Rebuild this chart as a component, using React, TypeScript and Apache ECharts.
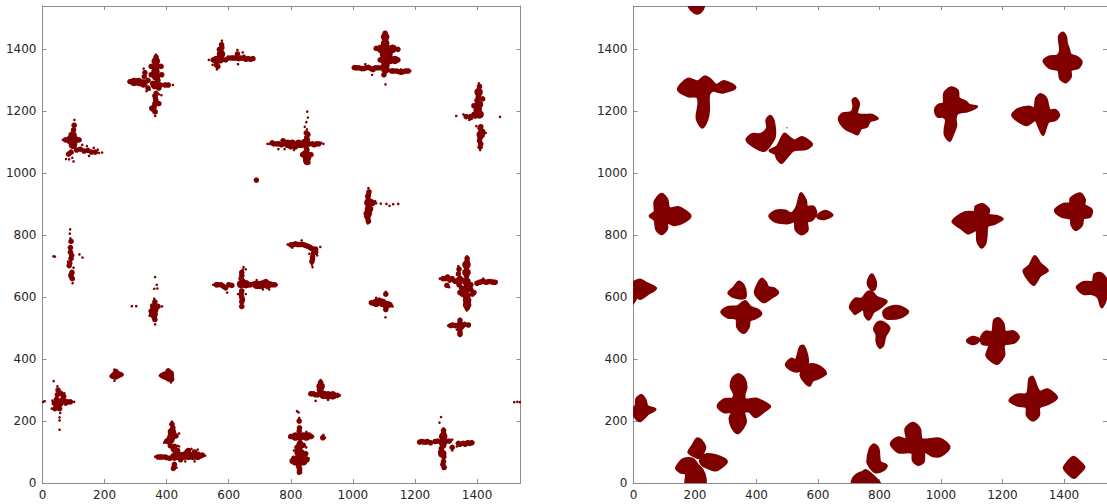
import React, { useEffect, useRef } from "react";
import * as echarts from "echarts";

const axisMax = 1540;
const tickStep = 200;

// left panel: measured points, grouped by how much of the cluster each dot covers
const leftDense: number[][] = [
  [88,1108],[104,1108],[97,1122],[98,1092],
  [365,1362],[365,1345],[364,1328],[366,1312],[362,1285],[295,1295],[310,1295],[325,1290],
  [560,1366],[572,1368],[575,1385],
  [1104,1440],[1104,1420],[1090,1402],[1110,1402],[1128,1402],[1100,1385],[1115,1385],[1100,1366],[1120,1366],[1135,1366],[1105,1350],[1105,1335],
  [1405,1262],[1406,1222],[1402,1205],[1408,1190],[1412,1125],
  [790,1095],[805,1095],[825,1095],[845,1098],[852,1050],[848,1062],
  [1050,905],[1052,885],[1048,870],
  [640,642],[655,642],[690,640],[705,640],[725,640],
  [360,560],[358,545],
  [234,347],[240,350],
  [395,347],[408,340],[410,352],
  [417,165],[416,150],[412,140],[440,88],[455,88],[470,88],[485,88],[500,88],[425,85],
  [1075,582],[1095,582],[1108,575],
  [1366,705],[1366,680],[1366,650],[1364,625],[1366,605],[1368,590],[1368,575],[1345,655],
  [905,285],[920,283],[935,283],[896,312],
  [815,150],[830,150],[850,150],[825,100],[828,68],[815,70],[840,70],
  [1291,150],[1290,130],[1288,95],
  [1345,508]
];

const leftMedium: number[][] = [
  [100,1140],[102,1155],[74,1108],[118,1108],[92,1068],[84,1062],[122,1078],[134,1072],[146,1074],[158,1068],[170,1068],[110,1075],
  [366,1375],[350,1345],[382,1345],[350,1318],[384,1318],[282,1296],[340,1300],[330,1325],[328,1312],[340,1275],[380,1285],[395,1285],[405,1285],[362,1250],[365,1235],[360,1215],[363,1198],[352,1210],[375,1225],
  [372,1300],[355,1290],[375,1275],[362,1225],[364,1242],[358,1205],[366,1258],
  [577,1415],[574,1400],[550,1366],[590,1366],[565,1345],[610,1372],[625,1372],[640,1372],[655,1368],[670,1368],[628,1385],
  [600,1372],[617,1372],[632,1370],[648,1372],[662,1370],[678,1370],[560,1350],[570,1400],[578,1405],
  [1104,1452],[1075,1403],[1145,1400],[1088,1366],[1145,1366],[1005,1341],[1020,1340],[1035,1338],[1050,1342],[1065,1335],[1080,1340],[1125,1330],[1140,1330],[1155,1326],[1170,1330],[1100,1318],
  [1012,1340],[1028,1338],[1042,1340],[1058,1338],[1072,1340],[1090,1340],[1130,1330],[1148,1328],[1162,1328],[1178,1330],[1105,1372],
  [1408,1280],[1404,1245],[1390,1218],[1418,1240],[1390,1190],[1378,1183],[1365,1183],[1410,1145],[1418,1135],[1408,1105],[1410,1085],
  [1405,1250],[1400,1235],[1406,1210],[1404,1198],[1395,1185],[1380,1180],[1412,1150],[1410,1115],[1412,1095],
  [740,1098],[755,1095],[770,1092],[775,1105],[860,1095],[875,1092],[890,1095],[851,1115],[850,1130],[852,1075],[838,1060],[865,1060],[851,1035],
  [745,1095],[762,1095],[780,1100],[800,1085],[815,1085],[835,1090],[870,1095],[882,1095],[850,1082],[855,1035],[848,1040],[855,1125],[853,1108],
  [1052,940],[1048,925],[1064,903],[1045,860],[1050,845],[1050,930],[1050,915],[1060,908],[1048,855],
  [94,735],[90,760],[92,780],[86,702],[92,672],[96,660],[90,745],[92,725],[95,680],[92,668],[88,710],
  [800,769],[815,772],[830,770],[845,768],[860,762],[872,755],[870,730],[868,715],[880,745],
  [808,770],[822,770],[838,770],[852,765],[866,758],[873,742],[870,722],[880,755],
  [560,640],[575,640],[590,630],[610,638],[670,640],[735,642],[748,640],[642,680],[640,660],[642,620],[642,600],[642,585],[642,570],[720,650],
  [565,640],[583,635],[600,640],[665,640],[680,642],[700,635],[715,648],[740,640],[640,610],[644,592],[642,670],[645,652],
  [372,570],[350,555],[362,585],[362,528],[355,572],[365,572],[352,550],[360,535],
  [225,345],[252,350],[236,360],
  [385,347],[405,362],[416,335],
  [417,190],[400,135],[430,152],[425,118],[372,84],[385,84],[395,84],[410,80],[515,90],[425,60],[422,48],[435,105],[470,105],
  [420,178],[410,130],[422,108],[430,100],[380,84],[400,82],[445,75],[465,100],[490,100],[510,88],[412,120],
  [1060,582],[1120,575],[1106,560],[1106,610],[1085,590],[1068,580],[1115,578],
  [1368,725],[1342,690],[1340,675],[1290,660],[1305,665],[1320,660],[1335,650],[1400,645],[1415,650],[1430,648],[1445,650],[1458,648],[1345,615],[1390,615],[1303,638],
  [1366,695],[1368,715],[1366,668],[1366,640],[1352,610],[1380,625],[1350,630],[1385,610],[1368,565],[1298,660],[1312,655],[1328,652],[1342,640],[1408,648],[1422,650],[1437,650],[1452,648],[1380,640],
  [1315,508],[1330,508],[1360,512],[1372,510],[1345,525],[1345,485],[1322,510],[1340,510],[1352,505],[1345,495],[1345,480],
  [865,288],[880,285],[950,283],[896,325],[892,300],[872,288],[888,285],[900,285],[942,283],[896,298],
  [800,150],[865,150],[828,178],[827,200],[903,146],[840,122],[820,115],[848,95],[805,70],[852,75],[828,48],[828,35],[830,130],[835,85],
  [808,150],[840,155],[858,155],[827,125],[830,115],[822,100],[835,100],[845,85],[810,80],[825,55],[828,40],[820,82],[827,168],
  [1292,170],[1285,112],[1292,70],[1294,50],[1215,132],[1228,132],[1240,134],[1250,130],[1265,134],[1310,135],[1340,128],[1355,128],[1370,130],[1383,130],[1320,115],
  [1292,160],[1290,140],[1292,120],[1283,100],[1293,85],[1290,60],[1273,135],[1300,135],[1345,125],[1362,125],[1376,128],[1222,134],[1235,132],
  [62,268],[50,300],[48,285],[68,280],[72,265],[82,262],[50,258],[40,240],[55,240],[38,258],[45,270],[58,255],[75,258],[90,262],[58,290],[60,262],[45,250],
  [689,978]
];

const leftFine: number[][] = [
  [103,1172],[192,1067],[182,1066],[76,1046],[86,1045],[100,1038],[96,1050],[66,1108],[128,1092],[150,1056],[143,1088],[165,1082],[178,1076],
  [420,1285],[365,1383],[345,1270],[335,1265],[375,1255],[383,1252],[363,1185],[278,1296],[326,1338],
  [578,1428],[536,1366],[548,1350],[562,1335],[680,1368],[630,1352],[628,1398],[650,1380],[645,1390],
  [1105,1287],[1000,1342],[1185,1330],[1062,1318],[1155,1335],[1040,1352],[1090,1400],
  [1406,1290],[1333,1185],[1474,1182],[1356,1190],[1398,1152],[1410,1075],[1428,1130],[1375,1172],
  [731,1095],[905,1095],[853,1199],[855,1180],[850,1165],[845,1150],[852,1142],[725,1095],[760,1078],[780,1078],[810,1075],[898,1098],
  [1050,952],[1075,903],[1090,902],[1108,901],[1118,895],[1130,900],[1146,901],[1048,838],[1072,910],
  [89,819],[88,805],[90,790],[35,732],[40,731],[119,738],[129,728],[97,645],[82,715],[100,695],
  [790,770],[895,762],[870,697],[868,705],[885,735],[860,740],[805,760],[835,783],
  [550,640],[755,640],[648,697],[646,690],[642,565],[595,615],[710,625],[690,655],[730,625],[655,690],[630,610],[655,610],
  [363,665],[368,640],[360,627],[370,628],[364,530],[363,512],[288,571],[302,571],[385,570],[345,540],[360,595],
  [220,345],[258,350],[232,366],[232,330],
  [378,347],[414,325],[420,345],
  [417,198],[392,130],[440,160],[435,120],[363,85],[524,88],[420,42],[432,50],[490,70],[460,70],[500,108],[480,110],[440,118],
  [1055,582],[1106,617],[1105,535],[1128,570],[1075,598],
  [1367,732],[1367,557],[1280,660],[1463,650],[1310,632],[1340,700],[1420,660],[1375,622],
  [1307,508],[1377,512],[1345,475],[1345,530],[1335,495],
  [860,287],[958,283],[896,332],[880,265],[920,268],
  [795,148],[825,228],[820,232],[827,210],[872,150],[910,146],[905,155],[825,30],[800,75],[857,80],[850,115],[810,105],[850,165],
  [1284,213],[1279,195],[1291,46],[1211,132],[1388,130],[1335,118],[1320,140],[1320,105],[1292,176],[1262,135],
  [36,329],[2,262],[7,264],[57,226],[55,212],[55,202],[55,172],[102,262],[32,266],[48,312],[70,290],[30,240],
  [1520,261],[1530,262],[1538,261]
];

// right panel: measured cluster outlines in data units
const rightOutlines: number[][][] = [
  [[180,1545],[188,1527],[206,1516],[222,1525],[228,1545]],
  [[145,1271],[177,1305],[209,1296],[231,1312],[252,1301],[268,1285],[295,1297],[331,1277],[290,1261],[258,1267],[245,1253],[245,1204],[239,1172],[223,1148],[206,1177],[212,1226],[206,1247],[177,1249]],
  [[368,1108],[387,1126],[413,1126],[435,1145],[433,1172],[445,1185],[456,1167],[459,1118],[440,1086],[424,1073],[392,1086]],
  [[443,1073],[467,1086],[491,1127],[510,1113],[524,1105],[548,1116],[580,1094],[559,1078],[521,1075],[500,1054],[481,1034],[467,1048],[462,1062]],
  [[53,862],[69,876],[69,908],[91,933],[109,916],[116,887],[145,890],[166,880],[185,862],[166,844],[134,833],[109,841],[109,822],[93,804],[75,817],[69,849]],
  [[442,862],[462,878],[494,879],[513,870],[531,892],[544,935],[560,913],[564,892],[585,892],[594,871],[580,849],[564,844],[566,817],[547,803],[528,817],[524,844],[500,839],[462,844]],
  [[598,862],[623,878],[647,865],[623,853],[602,855]],
  [[668,1176],[682,1193],[708,1197],[716,1215],[713,1236],[722,1242],[733,1225],[727,1193],[753,1188],[775,1188],[794,1176],[769,1169],[759,1151],[740,1145],[729,1126],[716,1131],[688,1145]],
  [[981,1204],[990,1220],[1009,1226],[1011,1258],[1033,1277],[1054,1267],[1058,1242],[1081,1231],[1092,1220],[1117,1215],[1087,1201],[1054,1194],[1047,1177],[1049,1155],[1038,1124],[1028,1105],[1013,1124],[1013,1145],[1017,1172],[1006,1183],[990,1183]],
  [[1232,1188],[1253,1208],[1286,1215],[1304,1210],[1310,1242],[1323,1255],[1342,1242],[1353,1204],[1372,1204],[1384,1188],[1372,1172],[1350,1167],[1342,1151],[1332,1124],[1318,1151],[1307,1172],[1280,1156],[1253,1167]],
  [[1334,1362],[1350,1376],[1379,1380],[1388,1398],[1384,1441],[1396,1454],[1406,1441],[1409,1420],[1415,1403],[1422,1382],[1441,1376],[1457,1360],[1447,1341],[1422,1333],[1422,1312],[1406,1294],[1388,1306],[1382,1333],[1355,1339]],
  [[1038,844],[1076,873],[1110,876],[1113,892],[1135,900],[1156,882],[1154,866],[1183,861],[1200,852],[1173,837],[1151,830],[1148,801],[1144,774],[1132,760],[1119,780],[1116,817],[1103,812],[1087,806],[1065,823]],
  [[1371,880],[1399,901],[1420,903],[1422,919],[1452,935],[1468,914],[1466,898],[1490,882],[1485,860],[1463,855],[1458,833],[1439,817],[1425,833],[1422,853],[1393,860]],
  [[-5,643],[21,656],[37,648],[73,629],[48,611],[21,595],[2,607],[-5,612]],
  [[-5,578],[8,598],[-5,608]],
  [[309,614],[327,632],[343,650],[358,638],[365,611],[360,597],[327,600]],
  [[395,616],[405,643],[417,659],[430,648],[438,632],[459,627],[470,614],[451,600],[424,584],[403,600]],
  [[286,552],[306,568],[338,570],[363,587],[381,568],[403,560],[415,546],[397,532],[378,525],[374,503],[358,485],[338,503],[335,530],[306,535]],
  [[496,382],[513,401],[528,396],[542,439],[553,442],[566,406],[566,385],[551,367],[532,360],[510,367]],
  [[545,356],[566,380],[591,382],[615,369],[625,353],[604,339],[582,331],[573,315],[559,324],[546,342]],
  [[-3,234],[8,251],[10,272],[26,283],[39,267],[45,248],[71,238],[48,224],[37,213],[21,200],[5,213]],
  [[274,248],[295,270],[322,272],[327,288],[317,310],[322,337],[341,351],[360,337],[367,310],[360,283],[365,269],[397,272],[424,261],[444,247],[424,231],[397,213],[376,231],[360,229],[365,197],[354,175],[338,161],[320,181],[313,208],[319,229],[295,229]],
  [[179,100],[193,122],[206,143],[220,138],[233,116],[228,100],[215,81],[193,89]],
  [[217,73],[236,92],[268,89],[295,78],[303,68],[290,54],[268,41],[241,49],[225,57]],
  [[139,48],[161,76],[193,78],[206,62],[225,41],[234,14],[231,-5],[171,-5],[171,30],[152,35]],
  [[715,16],[728,28],[745,35],[755,41],[775,27],[793,10],[802,-5],[712,-5]],
  [[761,68],[769,111],[782,124],[796,111],[802,68],[823,57],[812,41],[786,35],[769,52]],
  [[837,127],[861,147],[888,141],[885,175],[909,194],[931,175],[938,141],[995,143],[1027,116],[1001,89],[974,87],[947,100],[943,68],[925,59],[909,73],[906,98],[861,100]],
  [[1400,49],[1414,70],[1431,84],[1450,70],[1466,52],[1450,32],[1433,17],[1414,30]],
  [[1223,267],[1248,285],[1280,288],[1288,337],[1298,342],[1314,304],[1323,294],[1347,302],[1377,275],[1350,256],[1320,245],[1318,218],[1300,202],[1280,218],[1278,245],[1248,251]],
  [[1130,468],[1146,489],[1167,487],[1173,525],[1186,532],[1203,514],[1208,489],[1237,489],[1253,471],[1237,453],[1205,446],[1205,412],[1183,385],[1162,396],[1148,412],[1157,444],[1135,449]],
  [[1085,460],[1103,471],[1126,463],[1108,449],[1092,452]],
  [[1269,686],[1288,702],[1305,732],[1323,708],[1347,686],[1323,670],[1302,640],[1282,659]],
  [[704,568],[721,595],[743,595],[759,614],[775,617],[791,600],[823,586],[796,562],[780,552],[766,528],[753,541],[748,562],[721,546],[715,552]],
  [[762,648],[775,673],[788,648],[784,625],[773,625]],
  [[813,553],[834,568],[866,570],[893,553],[871,536],[834,530],[818,535]],
  [[783,497],[796,519],[812,519],[832,500],[818,473],[812,446],[801,437],[791,457],[791,479]],
  [[1442,632],[1464,648],[1494,650],[1499,672],[1515,678],[1533,665],[1545,630],[1533,584],[1522,568],[1511,600],[1490,611],[1464,611]]
];

const rightSpecks: number[][] = [[499,1147],[628,352]];

const ink = "#800000";
const frame = "#8c8c8c";
const labelColor = "#262626";

export default function App() {
  const ref = useRef<HTMLDivElement>(null);
  useEffect(() => {
    document.body.style.margin = "0";
    const chart = echarts.init(ref.current!, null, { renderer: "svg" });
    const valueAxis = (gridIndex: number, position: string, labels: boolean) => ({
      type: "value",
      gridIndex,
      position,
      min: 0,
      max: axisMax,
      interval: tickStep,
      splitLine: { show: false },
      axisLine: { show: true, onZero: false, lineStyle: { color: frame, width: 1 } },
      axisTick: { show: true, inside: true, length: 4, lineStyle: { color: frame, width: 1 } },
      axisLabel: {
        show: labels,
        showMaxLabel: false,
        formatter: (v: number) => String(v),
        color: labelColor,
        fontFamily: "DejaVu Sans",
        fontSize: 12,
        margin: 6,
      },
    });
    const scatter = (data: number[][], xAxisIndex: number, yAxisIndex: number, size: number) => ({
      type: "scatter",
      xAxisIndex,
      yAxisIndex,
      data,
      symbol: "circle",
      symbolSize: size,
      itemStyle: { color: ink, opacity: 1 },
      clip: true,
      silent: true,
    });
    chart.setOption({
      animation: false,
      grid: [
        { left: 42.5, top: 6, width: 478, height: 477 },
        { left: 633.5, top: 6, width: 478, height: 477 },
      ],
      xAxis: [
        valueAxis(0, "bottom", true),
        valueAxis(0, "top", false),
        valueAxis(1, "bottom", true),
        valueAxis(1, "top", false),
      ],
      yAxis: [
        valueAxis(0, "left", true),
        valueAxis(0, "right", false),
        valueAxis(1, "left", true),
        valueAxis(1, "right", false),
      ],
      series: [
        scatter(leftDense, 0, 0, 8.5),
        scatter(leftMedium, 0, 0, 5.6),
        scatter(leftFine, 0, 0, 2.6),
        scatter(rightSpecks, 2, 2, 1.2),
        {
          type: "custom",
          xAxisIndex: 2,
          yAxisIndex: 2,
          clip: true,
          silent: true,
          data: rightOutlines.map((o, i) => [o[0][0], o[0][1], i]),
          encode: { x: 0, y: 1 },
          renderItem: (params: any, api: any) => ({
            type: "polygon",
            shape: {
              points: rightOutlines[params.dataIndex].map((p) => api.coord(p)),
              smooth: 0.3,
            },
            style: { fill: ink, stroke: ink, lineWidth: 2.5, lineJoin: "round" },
          }),
        },
      ],
    });
    return () => chart.dispose();
  }, []);
  return <div ref={ref} style={{ width: 1107, height: 504 }} />;
}
